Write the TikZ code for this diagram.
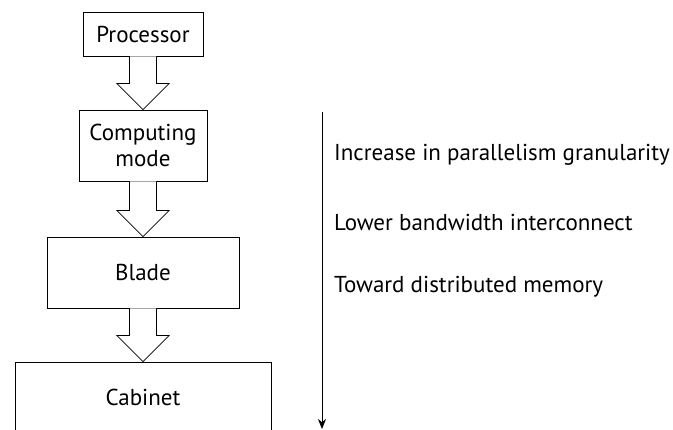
\documentclass[tikz,border=0pt]{standalone}
\usepackage{fontspec}
\setmainfont{PT Sans}
\usepackage{tikz}
\usetikzlibrary{arrows, arrows.meta}

\begin{document}
\begin{tikzpicture}[x=1pt, y=-1pt, font=\fontsize{23}{26}\selectfont]
\tikzstyle{level}=[rectangle, draw, line width=0.8pt, align=center, inner sep=0pt]
\tikzstyle{note}=[anchor=west, inner sep=0pt]
\tikzstyle{hollow}=[draw, line width=0.8pt, fill=white,
  to path={([xshift=-13.5pt]\tikztostart.south)
    -- ([xshift=-13.5pt, yshift=26pt]\tikztotarget.north)
    -- ([xshift=-26pt, yshift=26pt]\tikztotarget.north)
    -- (\tikztotarget.north)
    -- ([xshift=26pt, yshift=26pt]\tikztotarget.north)
    -- ([xshift=13.5pt, yshift=26pt]\tikztotarget.north)
    -- ([xshift=13.5pt]\tikztostart.south)}]
\useasboundingbox (0,0) rectangle (673,430);

\node[level, minimum width=120pt, minimum height=44pt] (Proc) at (143,34) {Processor};
\node[level, minimum width=128pt, minimum height=71pt] (Comp) at (143,145.5) {Computing\\mode};
\node[level, minimum width=192pt, minimum height=71pt] (Blade) at (143,272.5) {Blade};
\node[level, minimum width=256pt, minimum height=70pt] (Cab) at (143,397) {Cabinet};
\path (Proc) edge[hollow] (Comp)
      (Comp) edge[hollow] (Blade)
      (Blade) edge[hollow] (Cab);

\coordinate (Top) at (322,112);
\coordinate (Bot) at (322,429);
\draw[line width=0.9pt, -{Stealth[length=10pt, width=8pt]}] (Top) -- (Bot);

\node[note] (Gran) at (334,155) {Increase in parallelism granularity};
\node[note] (Band) at (334,222) {Lower bandwidth interconnect};
\node[note] (Mem) at (334,287) {Toward distributed memory};

\end{tikzpicture}
\end{document}
